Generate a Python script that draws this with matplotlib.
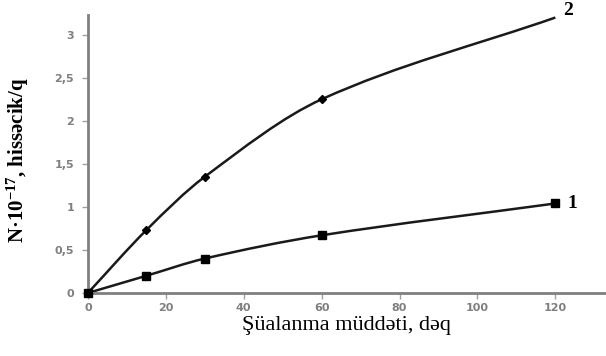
import numpy as np
import matplotlib
matplotlib.use("Agg")
import matplotlib.pyplot as plt
from matplotlib.path import Path
from matplotlib.patches import PathPatch

plt.rcParams["mathtext.fontset"] = "custom"
plt.rcParams["mathtext.rm"] = "Liberation Serif:bold"
plt.rcParams["mathtext.default"] = "rm"

# irradiation time, min
t1 = [0, 15, 30, 60, 120]
n1 = [0, 0.2, 0.4, 0.67, 1.04]
t2 = [0, 15, 30, 60, 120]
n2 = [0, 0.73, 1.35, 2.25, 3.2]
marked2 = 4  # curve 2 has markers on first four points only

xticks = [0, 20, 40, 60, 80, 100, 120]
yticks = [0, 0.5, 1, 1.5, 2, 2.5, 3]
ytick_labels = ["0", "0,5", "1", "1,5", "2", "2,5", "3"]


def smooth_path(x, y):
    # cubic Hermite segments as bezier curves, slopes from neighbouring points
    x = np.asarray(x, float)
    y = np.asarray(y, float)
    m = np.empty_like(y)
    m[0] = (y[1] - y[0]) / (x[1] - x[0])
    m[-1] = (y[-1] - y[-2]) / (x[-1] - x[-2])
    m[1:-1] = (y[2:] - y[:-2]) / (x[2:] - x[:-2])
    verts = [(x[0], y[0])]
    codes = [Path.MOVETO]
    for i in range(len(x) - 1):
        h = x[i + 1] - x[i]
        verts += [(x[i] + h / 3, y[i] + m[i] * h / 3),
                  (x[i + 1] - h / 3, y[i + 1] - m[i + 1] * h / 3),
                  (x[i + 1], y[i + 1])]
        codes += [Path.CURVE4] * 3
    return Path(verts, codes)


fig = plt.figure(figsize=(6.06, 3.56), dpi=100)
ax = fig.add_axes([0.145, 0.177, 0.855, 0.781])

for x, y in [(t1, n1), (t2, n2)]:
    ax.add_patch(PathPatch(smooth_path(x, y), facecolor="none", edgecolor="#1a1a1a", lw=1.8))

ax.plot(t1, n1, ls="none", marker="s", ms=6, color="black", clip_on=False, zorder=5)
ax.plot(t2[:marked2], n2[:marked2], ls="none", marker="D", ms=4, color="black",
        clip_on=False, zorder=5)

ax.text(t1[-1] + 3, n1[-1], "1", fontsize=14, fontweight="bold",
        family="Liberation Serif", va="center")
ax.text(t2[-1] + 2, n2[-1] + 0.08, "2", fontsize=14, fontweight="bold",
        family="Liberation Serif", va="center")

ax.set_xlim(0, 133)
ax.set_ylim(0, 3.23)
ax.set_xticks(xticks)
ax.set_yticks(yticks)
ax.set_yticklabels(ytick_labels)

for s in ["top", "right"]:
    ax.spines[s].set_visible(False)
for s in ["left", "bottom"]:
    ax.spines[s].set_color("#808080")
    ax.spines[s].set_linewidth(2)

ax.tick_params(axis="both", colors="#a0a0a0", labelcolor="#7f7f7f", labelsize=8,
               length=4, width=1)
ax.tick_params(axis="y", pad=6)
for lab in ax.get_xticklabels() + ax.get_yticklabels():
    lab.set_fontweight("bold")

ax.set_xlabel("Şüalanma müddəti, dəq", family="Liberation Serif", fontsize=16, labelpad=2)
fig.text(18 / 606, 1 - 160 / 356, "N·10$^{-17}$, hissəcik/q", family="Liberation Serif",
         fontsize=15, fontweight="bold", rotation=90, ha="center", va="center")

fig.savefig("out.png", dpi=100)
